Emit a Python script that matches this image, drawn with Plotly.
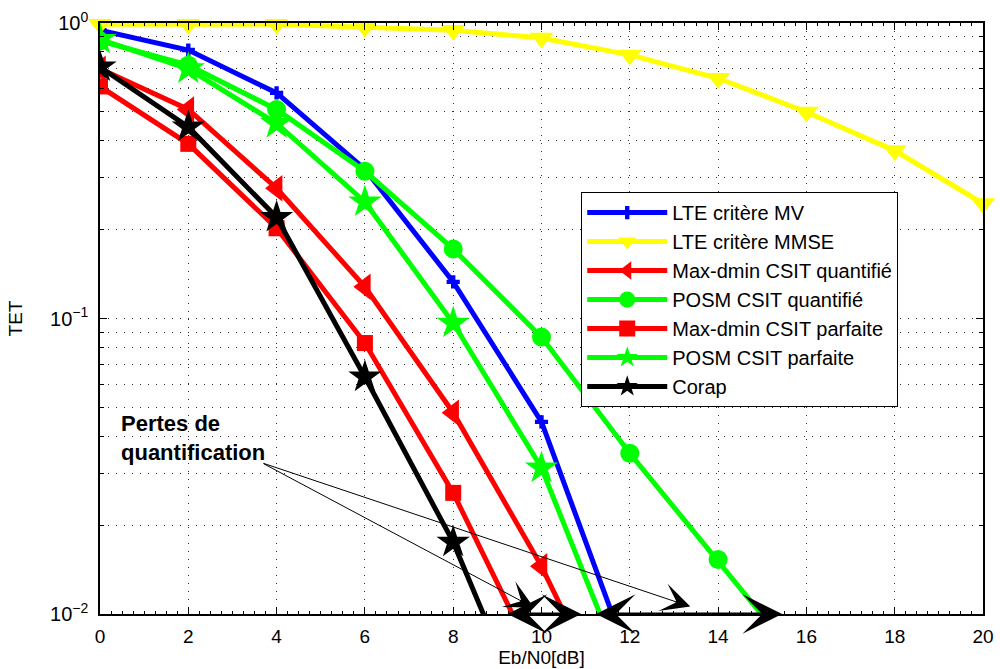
import plotly.graph_objects as go
import numpy as np

# ---- data ----
x_mv = [0, 2, 4, 6, 8, 10, 12]
tet_mv = [0.945, 0.81, 0.58, 0.32, 0.133, 0.0447, 0.0069]

x_mmse = [0, 2, 4, 6, 8, 10, 12, 14, 16, 18, 20]
tet_mmse = [0.99, 0.99, 0.99, 0.968, 0.945, 0.89, 0.78, 0.65, 0.50, 0.37, 0.245]

x_maxq = [0, 2, 4, 6, 8, 10, 12]
tet_maxq = [0.70, 0.51, 0.276, 0.128, 0.048, 0.0145, 0.0035]

x_posmq = [0, 2, 4, 6, 8, 10, 12, 14, 16]
tet_posmq = [0.87, 0.72, 0.51, 0.315, 0.172, 0.0865, 0.035, 0.0153, 0.0065]

x_maxp = [0, 2, 4, 6, 8, 10]
tet_maxp = [0.61, 0.39, 0.202, 0.0826, 0.0257, 0.0063]

x_posmp = [0, 2, 4, 6, 8, 10, 12]
tet_posmp = [0.88, 0.70, 0.457, 0.248, 0.0965, 0.0312, 0.0056]

x_corap = [0, 2, 4, 6, 8, 10]
tet_corap = [0.71, 0.445, 0.22, 0.0634, 0.0175, 0.0034]

x_ticks = list(range(0, 21, 2))
y_ticks = [0.01, 0.1, 1]
y_ticktext = ["10<sup>−2</sup>", "10<sup>−1</sup>", "10<sup>0</sup>"]
y_minor = [m * 10.0 ** e for e in (-2, -1) for m in range(2, 10)]

FONT = "Liberation Sans, Arial, Helvetica, sans-serif"

series = [
    ("LTE critère MV", x_mv, tet_mv, "#0000FF", "cross", 11, True),
    ("LTE critère MMSE", x_mmse, tet_mmse, "#FFFF00", "triangle-down", 21, False),
    ("Max-dmin CSIT quantifié", x_maxq, tet_maxq, "#FF0000", "triangle-left", 23, True),
    ("POSM CSIT quantifié", x_posmq, tet_posmq, "#00FF00", "circle", 19, True),
    ("Max-dmin CSIT parfaite", x_maxp, tet_maxp, "#FF0000", "square", 16, True),
    ("POSM CSIT parfaite", x_posmp, tet_posmp, "#00FF00", "star", 25, True),
    ("Corap", x_corap, tet_corap, "#000000", "star", 25, True),
]

fig = go.Figure()
for i, (name, xs, ys, col, sym, sz, clip) in enumerate(series):
    fig.add_trace(go.Scatter(
        x=xs, y=ys, name=name, mode="lines+markers",
        line=dict(color=col, width=5),
        marker=dict(symbol=sym, size=sz, color=col, line=dict(width=0)),
        cliponaxis=clip, legendgroup=f"g{i}",
    ))

grid_dash = "1px,7px"
grid_col = "#333333"

fig.update_xaxes(
    type="linear", range=[0, 20], tickvals=x_ticks,
    showline=True, linecolor="black", linewidth=1.5, mirror="ticks",
    ticks="inside", ticklen=7, tickcolor="black", tickwidth=1,
    showgrid=True, gridcolor=grid_col, griddash=grid_dash, gridwidth=1,
    zeroline=False,
    tickfont=dict(family=FONT, size=19, color="black"),
    ticklabelstandoff=4,
    minor=dict(dtick=0.25, ticks="inside", ticklen=3, tickcolor="black", showgrid=False),
    title=dict(text="Eb/N0[dB]", font=dict(family=FONT, size=19, color="black"), standoff=5),
    automargin=False,
)
fig.update_yaxes(
    type="log", range=[-2, 0], tickvals=y_ticks, ticktext=y_ticktext,
    showline=True, linecolor="black", linewidth=1.5, mirror="ticks",
    ticks="inside", ticklen=7, tickcolor="black", tickwidth=1,
    showgrid=True, gridcolor=grid_col, griddash=grid_dash, gridwidth=1,
    zeroline=False,
    tickfont=dict(family=FONT, size=20, color="black"),
    ticklabelstandoff=6,
    minor=dict(tickvals=y_minor, ticks="inside", ticklen=4, tickcolor="black",
               showgrid=True, gridcolor=grid_col, griddash=grid_dash, gridwidth=1),
    title=dict(text="TET", font=dict(family=FONT, size=19, color="black"), standoff=22),
    automargin=False,
)

annotations = [
    dict(xref="paper", yref="paper", x=0.022, y=0.347, xanchor="left", yanchor="top",
         text="<b>Pertes de<br>quantification</b>", align="left", showarrow=False,
         font=dict(family=FONT, size=22, color="black")),
    dict(xref="x", yref="y", axref="x", ayref="y", x=9.83, y=-1.979, ax=3.67, ay=-1.4885,
         text="", showarrow=True, arrowhead=3, arrowwidth=1, arrowsize=4.8, arrowcolor="black"),
    dict(xref="x", yref="y", axref="x", ayref="y", x=13.37, y=-1.975, ax=3.67, ay=-1.4885,
         text="", showarrow=True, arrowhead=3, arrowwidth=1, arrowsize=4.8, arrowcolor="black"),
    dict(xref="x", yref="y", axref="x", ayref="y", x=10.9, y=-2, ax=9.2, ay=-2,
         text="", showarrow=True, arrowside="end+start", arrowhead=3, startarrowhead=3,
         arrowwidth=3, arrowsize=2.2, startarrowsize=2.2, arrowcolor="black"),
    dict(xref="x", yref="y", axref="x", ayref="y", x=15.45, y=-2, ax=11.2, ay=-2,
         text="", showarrow=True, arrowside="end+start", arrowhead=3, startarrowhead=3,
         arrowwidth=3, arrowsize=2.2, startarrowsize=2.2, arrowcolor="black"),
]

fig.update_layout(
    width=1000, height=669,
    margin=dict(l=100, r=17, t=23, b=55),
    paper_bgcolor="white", plot_bgcolor="white",
    font=dict(family=FONT, size=18, color="black"),
    annotations=annotations,
    legend=dict(
        x=0.545, y=0.714, xanchor="left", yanchor="top",
        bgcolor="white", bordercolor="black", borderwidth=1,
        font=dict(family=FONT, size=20, color="black"),
        tracegroupgap=0, itemwidth=80,
    ),
)

fig.write_html("out.html")
